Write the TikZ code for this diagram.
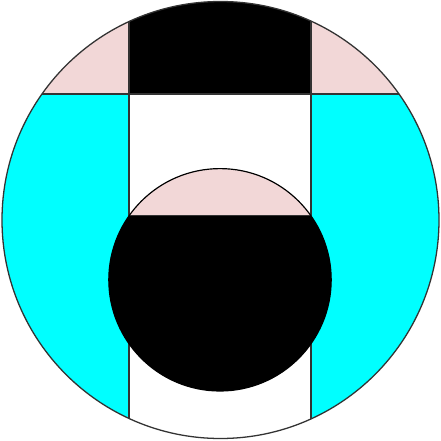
\documentclass[tikz,border=0pt]{standalone}
\definecolor{pinkish}{RGB}{242,215,215}
\definecolor{aqua}{RGB}{0,255,255}
\begin{document}
\begin{tikzpicture}[x=0.03cm,y=-0.03cm,
  edge/.style={draw=black!80,line width=1.1pt},
  thin edge/.style={draw=black,line width=1.0pt}]
\useasboundingbox (0,0) rectangle (441,441);
\def\R{218.5}
% big disc
\fill[white] (220.5,220) circle (\R);
\begin{scope}
  \clip (220.5,220) circle (\R);
  \fill[pinkish] (0,0) rectangle (129,94);
  \fill[pinkish] (311,0) rectangle (441,94);
  \fill[black] (129,0) rectangle (311,94);
  \fill[aqua] (0,94) rectangle (129,441);
  \fill[aqua] (311,94) rectangle (441,441);
  \draw[edge] (129,0) -- (129,441);
  \draw[edge] (311,0) -- (311,441);
  \draw[edge] (0,94) -- (129,94);
  \draw[edge] (311,94) -- (441,94);
  \draw[edge] (129,94) -- (311,94);
\end{scope}
\draw[edge] (220.5,220) circle (\R);
% small disc
\fill[black] (220,279.8) circle (111.2);
\begin{scope}
  \clip (0,0) rectangle (441,215.7);
  \fill[pinkish] (220,279.8) circle (111.2);
\end{scope}
\draw[edge] (129.5,215.7) -- (310.5,215.7);
\draw[thin edge] (220,279.8) circle (111.2);
\end{tikzpicture}
\end{document}
